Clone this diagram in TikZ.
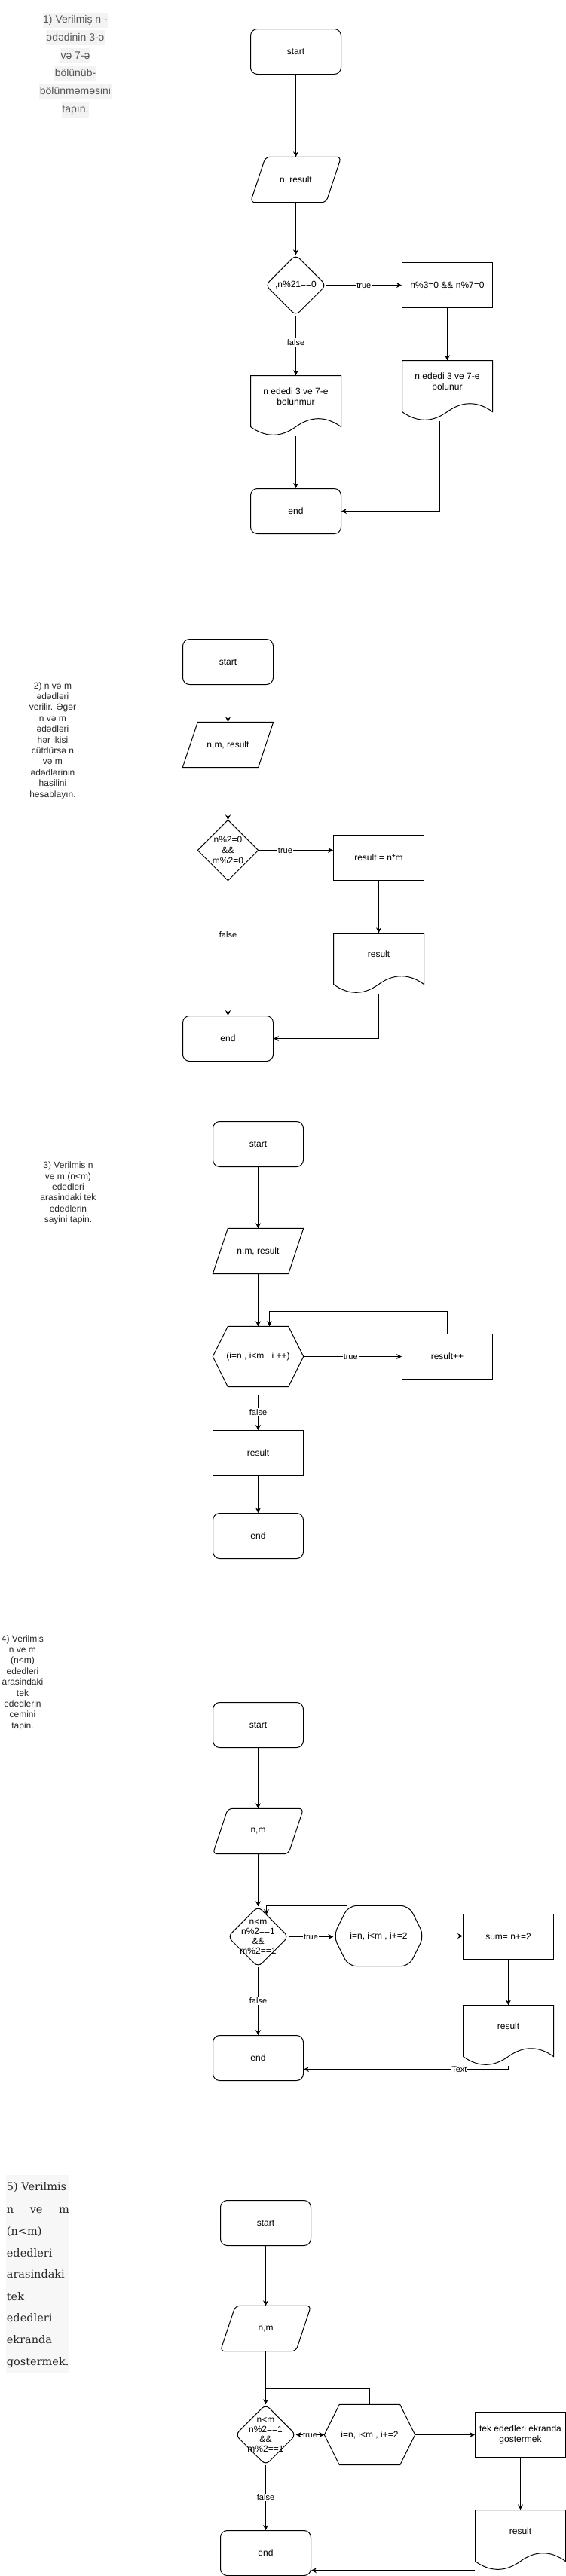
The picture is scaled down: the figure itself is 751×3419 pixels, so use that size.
\documentclass[tikz,border=0pt]{standalone}
\usepackage{fontspec}
\setmainfont{Liberation Sans}
\newfontfamily\serifv{DejaVu Serif}
\usetikzlibrary{arrows.meta,calc}
\definecolor{qgrey}{HTML}{555555}
\definecolor{qbg}{HTML}{F3F3F3}
\definecolor{sbg}{HTML}{F7F7F7}
\tikzset{
 basetxt/.style={font=\fontsize{12}{14}\selectfont, align=center, inner sep=0pt, text=black},
 shp/.style={draw=black, line width=1pt},
 term/.style={basetxt, shp, rounded corners=9pt, minimum width=120pt, minimum height=60pt},
 proc/.style={basetxt, shp, minimum width=120pt, minimum height=60pt},
 pbox/.style={basetxt, minimum width=120pt, minimum height=60pt},
 dbox/.style={basetxt, minimum width=80pt, minimum height=80pt},
 hbox/.style={basetxt, minimum width=120pt, minimum height=80pt},
 arr/.style={line width=1pt, -{Stealth[length=7pt,width=7pt,inset=2.5pt]}},
 ln/.style={line width=1pt},
 lbl/.style={font=\fontsize{11}{12}\selectfont, fill=white, inner sep=1pt, text=black},
 side/.style={font=\fontsize{12}{14.4}\selectfont, align=center, inner sep=0pt, text=black!85},
 qline/.style={font=\fontsize{14}{16}\selectfont, text=qgrey, fill=qbg, inner xsep=0.5pt, inner ysep=1pt, text height=13pt, text depth=5pt},
 sline/.style={font=\serifv\fontsize{14.5}{17}\selectfont, text=black!85, inner sep=0pt, anchor=base west},
}
% shape outlines around invisible named nodes
\newcommand\paraS[2][]{\draw[shp,#1] ([xshift=10pt]#2.north) -- (#2.north east) -- ([xshift=-20pt]#2.south east) -- (#2.south west) -- ([xshift=20pt]#2.north west) -- cycle;}
\newcommand\hexS[2][]{\draw[shp,#1] (#2.north) -- ([xshift=-20pt]#2.north east) -- (#2.east) -- ([xshift=-20pt]#2.south east) -- ([xshift=20pt]#2.south west) -- (#2.west) -- ([xshift=20pt]#2.north west) -- cycle;}
\newcommand\diaS[2][]{\draw[shp,#1] ($(#2.north)!0.5!(#2.east)$) -- (#2.east) -- (#2.south) -- (#2.west) -- (#2.north) -- cycle;}
\newcommand\docS[4]{%
 \node[basetxt, minimum width=120pt, minimum height=80pt] (#1) at (#2+60,#3+40) {};
 \node[basetxt] (#1-t) at (#2+60,#3+28) {#4};
 \draw[shp] (#2,#3) -- (#2+120,#3) -- (#2+120,#3+68) .. controls (#2+100,#3+53.6) and (#2+80,#3+53.6) .. (#2+60,#3+68) .. controls (#2+40,#3+82.4) and (#2+20,#3+82.4) .. (#2,#3+68) -- cycle;}
\begin{document}
\begin{tikzpicture}[x=1pt,y=-1pt]
\useasboundingbox[fill=white] (0,0) rectangle (751,3419);

% ---------------- Section 1 ----------------
\foreach \t [count=\i from 0] in {1) Verilmiş n -, ədədinin 3-ə, və 7-ə, bölünüb-, bölünməməsini, tapın.}{
  \node[qline] (q1-\i) at (100,26.5+23.8*\i) {\t};
}
\node[term] (st1) at (392.5,68.5) {start};
\node[pbox] (in1) at (392.5,238.5) {n, result};
\paraS[rounded corners=6pt]{in1}
\node[dbox] (dia1) at (392.5,378.5) {,n\%21==0};
\diaS[rounded corners=7pt]{dia1}
\node[proc] (r1) at (593.5,378.5) {n\%3=0 \&\& n\%7=0};
\docS{dl1}{332.5}{498.5}{n ededi 3 ve 7-e\\bolunmur}
\docS{dr1}{533.5}{478.5}{n ededi 3 ve 7-e\\bolunur}
\node[term] (end1) at (392.5,678.5) {end};
\draw[arr] (st1) -- (in1);
\draw[arr] (in1) -- (dia1);
\draw[arr] (dia1.east) -- (r1.west) node[lbl,midway] (t1) {true};
\draw[arr] (dia1.south) -- (dl1.north) node[lbl,pos=0.45] (f1) {false};
\draw[arr] (r1.south) -- (dr1.north);
\draw[arr] (dl1.south) -- (end1.north);
\draw[arr] ([xshift=-10pt]dr1.south) |- (end1.east);

% ---------------- Section 2 ----------------
\node[side] (q2) at (70,983) {2) n və m\\ədədləri\\verilir. Əgər\\n və m\\ədədləri\\hər ikisi\\cütdürsə n\\və m\\ədədlərinin\\hasilini\\hesablayın.};
\node[term] (st2) at (302.5,878.5) {start};
\node[pbox] (in2) at (302.5,988.5) {n,m, result};
\paraS{in2}
\node[dbox] (dia2) at (302.5,1128.5) {n\%2=0\\\&\&\\m\%2=0};
\diaS{dia2}
\node[proc] (r2) at (502.5,1138.5) {result = n*m};
\docS{dc2}{442.5}{1238.5}{result}
\node[term] (end2) at (302.5,1378.5) {end};
\draw[arr] (st2) -- (in2);
\draw[arr] (in2) -- (dia2);
\draw[arr] (dia2.east) -- (dia2.east -| r2.west) node[lbl,pos=0.36] (t2) {true};
\draw[arr] (dia2.south) -- (end2.north) node[lbl,pos=0.4] (f2) {false};
\draw[arr] (r2.south) -- (dc2.north);
\draw[arr] (dc2.south) |- (end2.east);

% ---------------- Section 3 ----------------
\node[side] (q3) at (90.5,1583.5) {3) Verilmis n\\ve m (n<m)\\ededleri\\arasindaki tek\\ededlerin\\sayini tapin.};
\node[term] (st3) at (342.5,1518.5) {start};
\node[pbox] (in3) at (342.5,1660.5) {n,m, result};
\paraS{in3}
\node[hbox] (hx3) at (342.5,1800.5) {(i=n , i<m , i ++)};
\hexS{hx3}
\node[proc] (r3) at (593.5,1800.5) {result++};
\node[proc] (res3) at (342.5,1928.5) {result};
\node[term] (end3) at (342.5,2038.5) {end};
\draw[arr] (st3) -- (in3);
\draw[arr] (in3) -- (hx3);
\draw[arr] (hx3.east) -- (r3.west) node[lbl,pos=0.48] (t3) {true};
\draw[arr] (r3.north) -- ++(0,-30) -| ([xshift=15pt]hx3.north);
\draw[arr] ([yshift=-10pt]hx3.south) -- (res3.north) node[lbl,midway] (f3) {false};
\draw[arr] (res3) -- (end3);

% ---------------- Section 4 ----------------
\node[side] (q4) at (30,2233.5) {4) Verilmis\\n ve m\\(n<m)\\ededleri\\arasindaki\\tek\\ededlerin\\cemini\\tapin.};
\node[term] (st4) at (342.5,2289.5) {start};
\node[pbox] (in4) at (342.5,2430.5) {n,m};
\paraS[rounded corners=6pt]{in4}
\node[dbox, font=\fontsize{12}{13}\selectfont] (dia4) at (342.5,2570.5) {n<m\\n\%2==1\\\&\&\\m\%2==1};
\diaS[rounded corners=7pt]{dia4}
\node[hbox] (hx4) at (502.5,2569.5) {i=n, i<m , i+=2};
\hexS[rounded corners=11pt]{hx4}
\node[proc] (r4) at (674.5,2570.5) {sum= n+=2};
\docS{dc4}{614.5}{2661.5}{result}
\node[term] (end4) at (342.5,2731.5) {end};
\coordinate (lp4) at (353.5,2541);
\draw[arr] (st4) -- (in4);
\draw[arr] (in4) -- (dia4);
\draw[arr] (dia4.east) -- (dia4.east -| hx4.west) node[lbl,midway] (t4) {true};
\draw[arr] ([xshift=-42pt]hx4.north) -| (lp4);
\draw[arr] (hx4.east) -- (hx4.east -| r4.west);
\draw[arr] (r4.south) -- (dc4.north);
\draw[arr] (dia4.south) -- (end4.north) node[lbl,midway] (f4) {false};
\draw[arr] (dc4.south) |- ([yshift=-15pt]end4.east) node[lbl,pos=0.62,inner sep=0.5pt] (tx4) {Text};

% ---------------- Section 5 ----------------
\fill[sbg] (8,2887) rectangle (92,3149);
\node[sline] (q5-0) at (8.7,2907) {5) Verilmis};
\node[sline] (q5-1) at (8.7,2937) {\makebox[83pt][s]{n\hfill ve\hfill m}};
\node[sline] (q5-2) at (8.7,2966) {(n<m)};
\node[sline] (q5-3) at (8.7,2995) {ededleri};
\node[sline] (q5-4) at (8.7,3023) {arasindaki};
\node[sline] (q5-5) at (8.7,3053) {tek};
\node[sline] (q5-6) at (8.7,3081) {ededleri};
\node[sline] (q5-7) at (8.7,3110) {ekranda};
\node[sline] (q5-8) at (8.7,3139) {gostermek.};
\node[term] (st5) at (352.5,2950.5) {start};
\node[pbox] (in5) at (352.5,3090.5) {n,m};
\paraS[rounded corners=6pt]{in5}
\node[dbox, font=\fontsize{12}{13}\selectfont] (dia5) at (352.5,3231.5) {n<m\\n\%2==1\\\&\&\\m\%2==1};
\diaS[rounded corners=7pt]{dia5}
\node[hbox] (hx5) at (490.5,3231.5) {i=n, i<m , i+=2};
\hexS{hx5}
\node[proc] (r5) at (690.5,3231.5) {tek ededleri ekranda\\gostermek};
\docS{dc5}{630.5}{3331.5}{result}
\node[term] (end5) at (352.5,3388.5) {end};
\coordinate (j5) at (352.5,3170.5);
\draw[arr] (st5) -- (in5);
\draw[arr] (in5) -- (dia5);
\draw[ln] (hx5.north) |- (j5);
\draw[line width=1pt, {Stealth[length=7pt,width=7pt,inset=2.5pt]}-{Stealth[length=7pt,width=7pt,inset=2.5pt]}] (dia5.east) -- (dia5.east -| hx5.west) node[lbl,midway,inner sep=0.3pt] (t5) {true};
\draw[arr] (hx5.east) -- (hx5.east -| r5.west);
\draw[arr] (r5.south) -- (dc5.north);
\draw[arr] (dia5.south) -- (end5.north) node[lbl,midway] (f5) {false};
\draw[arr] (dc5.south west) -- (dc5.south west -| end5.east);
\end{tikzpicture}
\end{document}
